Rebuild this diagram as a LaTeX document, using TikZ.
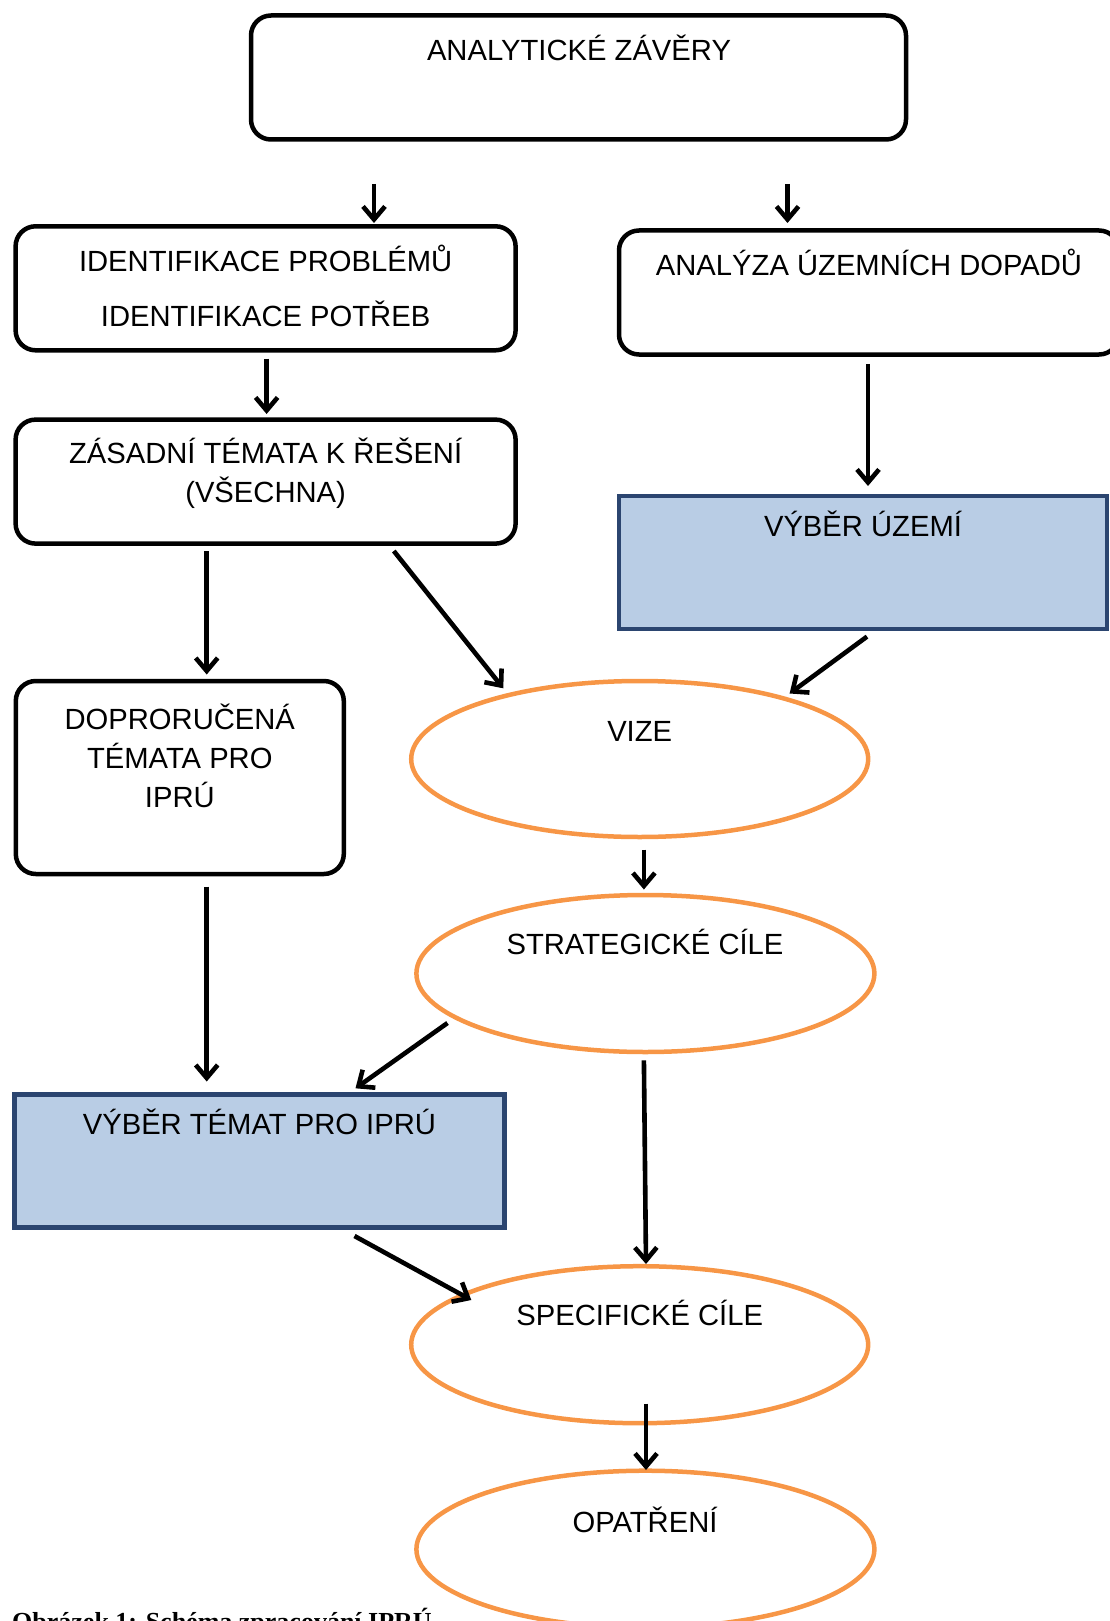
\documentclass[tikz,border=0pt]{standalone}
\usepackage{fontspec}
\setmainfont{Liberation Sans}
\newfontfamily\capfont{Liberation Serif}
\usetikzlibrary{arrows.meta,shapes.geometric}
\definecolor{orng}{HTML}{F79646}
\definecolor{bfill}{HTML}{B9CDE5}
\definecolor{bdraw}{HTML}{2B4570}
\begin{document}
\begin{tikzpicture}[x=1pt,y=-1pt,
  rbox/.style={draw=black, line width=4.5pt, rounded corners=20pt, inner sep=0pt},
  bbox/.style={draw=bdraw, fill=bfill, line width=4.5pt, inner sep=0pt},
  ell/.style={draw=orng, line width=4.5pt, ellipse, inner sep=0pt},
  txt/.style={anchor=base, font=\fontsize{29.2}{35}\selectfont, inner sep=0pt},
  arr/.style={-{Straight Barb[length=13pt,width=22pt]}, line width=4.6pt}]
\useasboundingbox (0,0) rectangle (1109,1621);
% boxes
\node[rbox, minimum width=655pt, minimum height=124pt] (az) at (578.5,77.5) {};
\node[rbox, minimum width=500pt, minimum height=124pt] (ip) at (265.6,288.3) {};
\node[rbox, minimum width=500pt, minimum height=124pt] (aud) at (869,292.5) {};
\node[rbox, minimum width=500pt, minimum height=124pt] (zt) at (265.6,481.6) {};
\node[bbox, minimum width=488pt, minimum height=133pt] (vu) at (863,562.7) {};
\node[rbox, minimum width=328pt, minimum height=193pt] (dt) at (179.8,777.5) {};
\node[bbox, minimum width=490pt, minimum height=133pt] (vt) at (259.4,1161) {};
\node[ell, minimum width=457pt, minimum height=156pt] (vize) at (639.7,759) {};
\node[ell, minimum width=458pt, minimum height=157pt] (sc) at (645.4,973.5) {};
\node[ell, minimum width=457pt, minimum height=157pt] (spc) at (639.7,1344.7) {};
\node[ell, minimum width=458pt, minimum height=157pt] (op) at (645.4,1549.2) {};
% texts
\node[txt] (t1) at (579,60.5) {ANALYTICKÉ ZÁVĚRY};
\node[txt] (t2a) at (265.6,271) {IDENTIFIKACE PROBLÉMŮ};
\node[txt] (t2b) at (265.6,326) {IDENTIFIKACE POTŘEB};
\node[txt] (t3) at (869,275.3) {ANALÝZA ÚZEMNÍCH DOPADŮ};
\node[txt] (t4a) at (265.6,463.4) {ZÁSADNÍ TÉMATA K ŘEŠENÍ};
\node[txt] (t4b) at (265.6,502.7) {(VŠECHNA)};
\node[txt] (t5) at (863,536.8) {VÝBĚR ÚZEMÍ};
\node[txt] (t6a) at (179.8,729) {DOPRORUČENÁ};
\node[txt] (t6b) at (179.8,768.2) {TÉMATA PRO};
\node[txt] (t6c) at (179.8,807.5) {IPRÚ};
\node[txt] (t7) at (639.7,741.4) {VIZE};
\node[txt] (t8) at (645,954.3) {STRATEGICKÉ CÍLE};
\node[txt] (t9) at (259.4,1134) {VÝBĚR TÉMAT PRO IPRÚ};
\node[txt] (t10) at (639.7,1325.3) {SPECIFICKÉ CÍLE};
\node[txt] (t11) at (645,1532) {OPATŘENÍ};
\node[anchor=base west, inner sep=0pt, font=\capfont\bfseries\fontsize{26}{30}\selectfont] (cap) at (12,1630) {Obrázek 1: Schéma zpracování IPRÚ};
% connector end points
\coordinate (a1s) at (374,184);   \coordinate (a1e) at (374,223);
\coordinate (a2s) at (787.5,184); \coordinate (a2e) at (787.5,223);
\coordinate (a3s) at (266.6,358.6); \coordinate (a3e) at (266.6,414);
\coordinate (a4s) at (868,363.8); \coordinate (a4e) at (868,486);
\coordinate (a5s) at (206.7,551); \coordinate (a5e) at (206.7,674.5);
\coordinate (a6s) at (393.8,551); \coordinate (a6e) at (503.3,688.3);
\coordinate (a7s) at (867,636.6); \coordinate (a7e) at (789.6,693.5);
\coordinate (a8s) at (643.9,849.5); \coordinate (a8e) at (643.9,889.5);
\coordinate (a9s) at (206.7,886.7); \coordinate (a9e) at (206.7,1081.5);
\coordinate (a10s) at (447.5,1023); \coordinate (a10e) at (355.5,1088.3);
\coordinate (a11s) at (643.9,1060.4); \coordinate (a11e) at (646,1264);
\coordinate (a12s) at (354.5,1236); \coordinate (a12e) at (471.3,1300);
\coordinate (a13s) at (646,1403.5); \coordinate (a13e) at (646,1470);
\foreach \i in {1,...,13}{\draw[arr] (a\i s) -- (a\i e);}
\end{tikzpicture}
\end{document}
